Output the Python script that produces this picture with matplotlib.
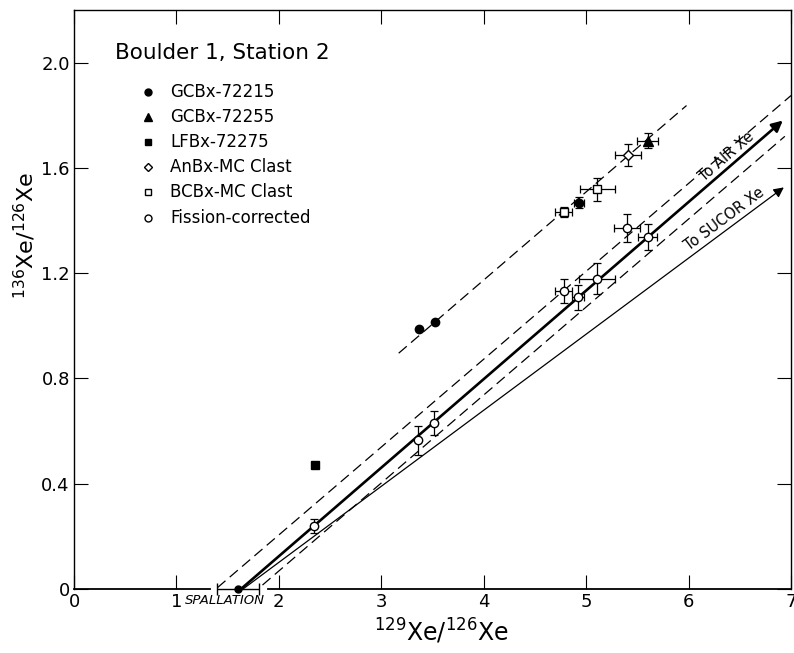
import numpy as np
import matplotlib
matplotlib.use("Agg")
import matplotlib.pyplot as plt

plt.rcParams['font.family'] = ['DejaVu Sans']
plt.rcParams['mathtext.default'] = 'regular'

# ---------------- data ----------------
gcbx_72215_x = [3.37, 3.52, 4.93]
gcbx_72215_y = [0.987, 1.014, 1.468]
gcbx_72215_xerr = [0.0, 0.0, 0.05]
gcbx_72215_yerr = [0.0, 0.0, 0.02]

gcbx_72255_x = [5.60]
gcbx_72255_y = [1.704]
gcbx_72255_xerr = [0.10]
gcbx_72255_yerr = [0.027]

lfbx_72275_x = [2.35]
lfbx_72275_y = [0.473]

anbx_x = [5.41]
anbx_y = [1.649]
anbx_xerr = [0.13]
anbx_yerr = [0.04]

bcbx_x = [4.78, 5.11]
bcbx_y = [1.432, 1.518]
bcbx_xerr = [0.08, 0.17]
bcbx_yerr = [0.02, 0.045]

fission_x = [2.34, 3.36, 3.51, 4.78, 4.92, 5.11, 5.40, 5.60]
fission_y = [0.239, 0.565, 0.631, 1.131, 1.108, 1.179, 1.371, 1.337]
fission_xerr = [0.0, 0.0, 0.0, 0.08, 0.06, 0.175, 0.13, 0.09]
fission_yerr = [0.027, 0.054, 0.047, 0.046, 0.048, 0.058, 0.053, 0.05]

spallation_x = [1.60]
spallation_y = [0.0]
spallation_xerr_lo = [0.20]
spallation_xerr_hi = [0.21]

air_line_x = [1.63, 6.92]
air_line_y = [0.0, 1.78]
sucor_line_x = [1.65, 6.93]
sucor_line_y = [0.0, 1.526]
env_upper_x = [1.40, 7.0]
env_upper_y = [0.005, 1.875]
env_lower_x = [1.84, 6.94]
env_lower_y = [0.015, 1.72]
unfrac_line_x = [3.17, 5.98]
unfrac_line_y = [0.896, 1.837]

axis_break = [1.33, 1.89]

x_ticks = [0, 1, 2, 3, 4, 5, 6, 7]
x_ticklabels = ['0', '1', '2', '3', '4', '5', '6', '7']
y_ticks = [0, 0.4, 0.8, 1.2, 1.6, 2.0]
y_ticklabels = ['0', '0.4', '0.8', '1.2', '1.6', '2.0']

legend_labels = ['GCBx-72215', 'GCBx-72255', 'LFBx-72275',
                 'AnBx-MC Clast', 'BCBx-MC Clast', 'Fission-corrected']

# ---------------- figure ----------------
fig = plt.figure(figsize=(7.94, 6.53), dpi=100)
ax = fig.add_axes([74 / 794, 64 / 653, 717 / 794, 579 / 653])
ax.set_xlim(0, 7)
ax.set_ylim(0, 2.2)

for s in ['left', 'top', 'right']:
    ax.spines[s].set_linewidth(1.0)
ax.spines['bottom'].set_visible(False)

# broken bottom axis line
ax.plot([0, axis_break[0]], [0, 0], color='k', lw=1.3, clip_on=False, zorder=3)
ax.plot([axis_break[1], 7], [0, 0], color='k', lw=1.3, clip_on=False, zorder=3)

ax.set_xticks(x_ticks)
ax.set_xticklabels(x_ticklabels)
ax.set_yticks(y_ticks)
ax.set_yticklabels(y_ticklabels)
ax.tick_params(direction='in', length=10, width=0.8, top=True, right=True,
               labelsize=13, pad=3)

dash = (8.5, 4.5)
ax.plot(env_upper_x, env_upper_y, color='k', lw=0.9, dashes=dash)
ax.plot(env_lower_x, env_lower_y, color='k', lw=0.9, dashes=dash)
ax.plot(unfrac_line_x, unfrac_line_y, color='k', lw=0.9, dashes=dash)

ax.annotate('', xy=(air_line_x[1], air_line_y[1]), xytext=(air_line_x[0], air_line_y[0]),
            arrowprops=dict(arrowstyle='-|>', lw=1.9, color='k', mutation_scale=16,
                            shrinkA=0, shrinkB=0))
ax.annotate('', xy=(sucor_line_x[1], sucor_line_y[1]), xytext=(sucor_line_x[0], sucor_line_y[0]),
            arrowprops=dict(arrowstyle='-|>', lw=0.9, color='k', mutation_scale=15,
                            shrinkA=0, shrinkB=0))


def angle_of(xs, ys):
    p = ax.transData.transform(np.column_stack([xs, ys]))
    return np.degrees(np.arctan2(p[1, 1] - p[0, 1], p[1, 0] - p[0, 0]))


ax.text(6.37, 1.645, 'To AIR Xe', rotation=angle_of(air_line_x, air_line_y),
        ha='center', va='center', rotation_mode='anchor', fontsize=10.5)
ax.text(6.35, 1.405, 'To SUCOR Xe', rotation=angle_of(sucor_line_x, sucor_line_y),
        ha='center', va='center', rotation_mode='anchor', fontsize=10.5)

eb = dict(fmt='none', ecolor='k', elinewidth=0.9, capsize=3, capthick=0.9)


def draw_points(xs, ys, xerrs, yerrs, marker, ms, face):
    for x, y, xe, ye in zip(xs, ys, xerrs, yerrs):
        ax.errorbar([x], [y], xerr=[xe] if xe > 0 else None,
                    yerr=[ye] if ye > 0 else None, zorder=4, **eb)
    ax.plot(xs, ys, linestyle='none', marker=marker, ms=ms, mfc=face, mec='k',
            mew=1.0, zorder=5)


draw_points(gcbx_72215_x, gcbx_72215_y, gcbx_72215_xerr, gcbx_72215_yerr, 'o', 6, 'k')
draw_points(gcbx_72255_x, gcbx_72255_y, gcbx_72255_xerr, gcbx_72255_yerr, '^', 7, 'k')
draw_points(lfbx_72275_x, lfbx_72275_y, [0.0], [0.0], 's', 6, 'k')
draw_points(anbx_x, anbx_y, anbx_xerr, anbx_yerr, 'D', 5.5, 'white')
draw_points(bcbx_x, bcbx_y, bcbx_xerr, bcbx_yerr, 's', 6, 'white')
draw_points(fission_x, fission_y, fission_xerr, fission_yerr, 'o', 6, 'white')

# spallation point on the axis
ax.errorbar(spallation_x, spallation_y, xerr=[spallation_xerr_lo, spallation_xerr_hi],
            fmt='o', ms=5, color='k', elinewidth=1.0, capsize=4, capthick=1.0,
            clip_on=False, zorder=6)
ax.text(1.475, -0.019, 'SPALLATION', transform=ax.get_xaxis_transform(),
        ha='center', va='center', fontsize=9.5, style='italic')

# axis labels
ax.set_xlabel(r'$^{129}$Xe/$^{126}$Xe', fontsize=17)
ax.xaxis.label.set_va('center')
ax.xaxis.set_label_coords(0.512, -0.074)
ax.set_ylabel(r'$^{136}$Xe/$^{126}$Xe', fontsize=16)
ax.yaxis.label.set_va('center')
ax.yaxis.set_label_coords(-0.068, 0.61)

# legend (manual)
ax.text(0.057, 0.926, 'Boulder 1, Station 2', transform=ax.transAxes,
        ha='left', va='center', fontsize=15.5)
leg_markers = [('o', 'k', 5), ('^', 'k', 6), ('s', 'k', 5),
               ('D', 'white', 4.5), ('s', 'white', 5), ('o', 'white', 5)]
leg_y = [0.858, 0.815, 0.772, 0.729, 0.685, 0.640]
for (m, fc, ms), lab, yy in zip(leg_markers, legend_labels, leg_y):
    ax.plot([0.103], [yy], marker=m, mfc=fc, mec='k', mew=1.0, ms=ms,
            linestyle='none', transform=ax.transAxes)
    ax.text(0.134, yy, lab, transform=ax.transAxes, ha='left', va='center',
            fontsize=12)

fig.savefig('out.png', dpi=100)
